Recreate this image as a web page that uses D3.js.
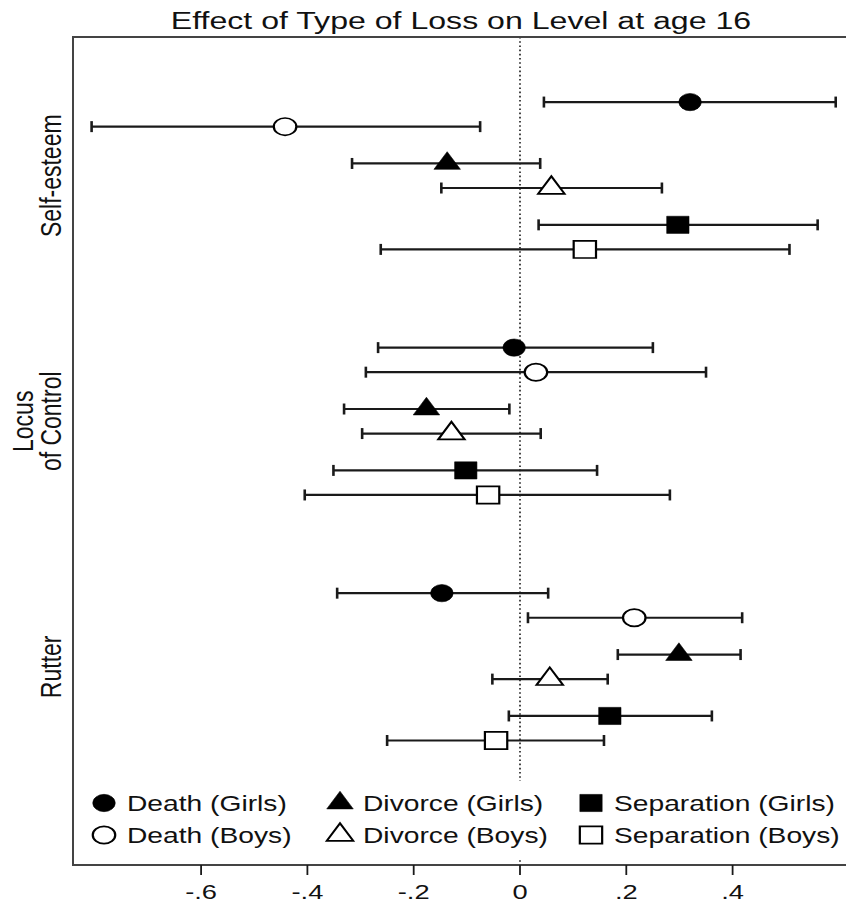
<!DOCTYPE html>
<html lang="en">
<head>
    <meta charset="UTF-8">
    <title>Effect of Type of Loss on Level at age 16</title>
    <script src="https://d3js.org/d3.v7.min.js"></script>
    <style>
        body { margin: 0; background-color: white; }
        svg text { font-family: "Liberation Sans", Arial, sans-serif; fill: #111; }
    </style>
</head>
<body>
    <div id="chart"></div>
    <script>
        // outcomes (groups) and loss types (series)
        const groups = ["Self-esteem", "Locus of Control", "Rutter"];
        const groupLabelLines = [["Self-esteem"], ["Locus", "of Control"], ["Rutter"]];
        const seriesNames = ["Death (Girls)", "Death (Boys)", "Divorce (Girls)",
                             "Divorce (Boys)", "Separation (Girls)", "Separation (Boys)"];

        // point estimates and confidence limits, one array per outcome
        const estSelfEsteem  = [0.320, -0.442, -0.137, 0.059, 0.297, 0.122];
        const lowSelfEsteem  = [0.045, -0.806, -0.316, -0.148, 0.035, -0.262];
        const highSelfEsteem = [0.594, -0.075, 0.038, 0.267, 0.560, 0.507];

        const estLocus  = [-0.011, 0.030, -0.176, -0.129, -0.102, -0.060];
        const lowLocus  = [-0.267, -0.290, -0.331, -0.297, -0.351, -0.405];
        const highLocus = [0.250, 0.350, -0.020, 0.039, 0.145, 0.282];

        const estRutter  = [-0.147, 0.215, 0.299, 0.056, 0.169, -0.045];
        const lowRutter  = [-0.344, 0.015, 0.184, -0.052, -0.021, -0.250];
        const highRutter = [0.053, 0.418, 0.415, 0.165, 0.361, 0.158];

        const xTicks = [-0.6, -0.4, -0.2, 0, 0.2, 0.4];
        const xTickLabels = ["-.6", "-.4", "-.2", "0", ".2", ".4"];

        const estimates = [estSelfEsteem, estLocus, estRutter];
        const lows = [lowSelfEsteem, lowLocus, lowRutter];
        const highs = [highSelfEsteem, highLocus, highRutter];

        // marker look for each series
        const shapes = [d3.symbolCircle, d3.symbolCircle, d3.symbolTriangle,
                        d3.symbolTriangle, d3.symbolSquare, d3.symbolSquare];
        const shapeSize = [235, 235, 180, 180, 295, 295];
        const filled = [true, false, true, false, true, false];
        const slotOffset = [0, 1, 2.5, 3.5, 5, 6];

        const width = 846, height = 904;
        const frame = { left: 73, right: 849, top: 37, bottom: 865 };
        const SX = 1.3; // the original picture is stretched sideways
        const ink = "#1a1a1a";

        const svg = d3.select("#chart")
            .append("svg")
            .attr("width", width)
            .attr("height", height);

        const x = d3.scaleLinear()
            .domain([-0.841, 0.619])
            .range([frame.left, frame.right]);

        const y = d3.scaleLinear()
            .domain([-2.65, 31.07])
            .range([frame.top, frame.bottom]);

        function stretchedText(g, tx, ty, str, size, rotate) {
            return g.append("text")
                .attr("transform", `translate(${tx},${ty}) scale(${SX},1)` + (rotate ? " rotate(-90)" : ""))
                .attr("text-anchor", "middle")
                .attr("font-size", size)
                .text(str);
        }

        function marker(g, i, cx, cy) {
            g.append("path")
                .attr("d", d3.symbol().type(shapes[i]).size(shapeSize[i])())
                .attr("transform", `translate(${cx},${cy}) scale(${SX},1)`)
                .attr("fill", filled[i] ? "black" : "white")
                .attr("stroke", "black")
                .attr("stroke-width", filled[i] ? 0.5 : 1.7);
        }

        // title
        stretchedText(svg, (frame.left + frame.right) / 2, 29, "Effect of Type of Loss on Level at age 16", 24.7);

        // zero reference line
        svg.append("line")
            .attr("x1", x(0)).attr("x2", x(0))
            .attr("y1", frame.top).attr("y2", frame.bottom)
            .attr("stroke", "#333")
            .attr("stroke-width", 1.8)
            .attr("stroke-dasharray", "1.6,2.6");

        // rows
        const rows = [];
        groups.forEach((grp, g) => {
            seriesNames.forEach((s, i) => {
                rows.push({ g, i, slot: g * 10 + slotOffset[i], est: estimates[g][i], lo: lows[g][i], hi: highs[g][i] });
            });
        });

        const bars = svg.append("g");
        rows.forEach(d => {
            const yy = y(d.slot);
            bars.append("line")
                .attr("x1", x(d.lo)).attr("x2", x(d.hi))
                .attr("y1", yy).attr("y2", yy)
                .attr("stroke", ink).attr("stroke-width", 2.2);
            [d.lo, d.hi].forEach(v => {
                bars.append("line")
                    .attr("x1", x(v)).attr("x2", x(v))
                    .attr("y1", yy - 5.5).attr("y2", yy + 5.5)
                    .attr("stroke", ink).attr("stroke-width", 2.6);
            });
        });
        rows.forEach(d => marker(bars, d.i, x(d.est), y(d.slot)));

        // group labels on the left
        groups.forEach((grp, g) => {
            const yc = (y(g * 10) + y(g * 10 + 6)) / 2;
            const lines = groupLabelLines[g];
            lines.forEach((ln, k) => {
                const bx = 61 - (lines.length - 1 - k) * 28.5;
                stretchedText(svg, bx, yc, ln, 23, true);
            });
        });

        // legend (white box hides the reference line)
        const legend = svg.append("g");
        legend.append("rect")
            .attr("x", frame.left + 6).attr("y", 781)
            .attr("width", frame.right - frame.left - 12).attr("height", 77)
            .attr("fill", "white");
        const legendCols = [104, 340, 591];
        const legendRows = [803, 835];
        seriesNames.forEach((s, i) => {
            const cx = legendCols[Math.floor(i / 2)];
            const cy = legendRows[i % 2];
            marker(legend, i, cx, cy);
            legend.append("text")
                .attr("transform", `translate(${cx + 23},${cy + 7.8}) scale(${SX},1)`)
                .attr("font-size", 21.7)
                .text(s);
        });

        // frame
        svg.append("rect")
            .attr("x", frame.left).attr("y", frame.top)
            .attr("width", frame.right - frame.left)
            .attr("height", frame.bottom - frame.top)
            .attr("fill", "none")
            .attr("stroke", "#444")
            .attr("stroke-width", 2);

        // x axis ticks
        const axis = svg.append("g");
        xTicks.forEach((t, k) => {
            axis.append("line")
                .attr("x1", x(t)).attr("x2", x(t))
                .attr("y1", frame.bottom).attr("y2", frame.bottom + 10)
                .attr("stroke", ink).attr("stroke-width", 1.8);
            stretchedText(axis, x(t), 899, xTickLabels[k], 21);
        });
    </script>
</body>
</html>
